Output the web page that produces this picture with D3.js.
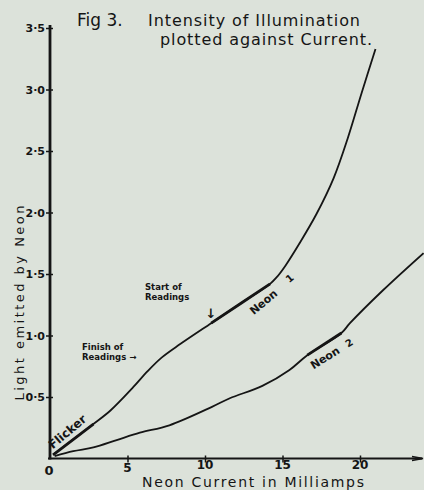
<!DOCTYPE html>
<head>
<meta charset="utf-8">
<title>Fig 3</title>
<script src="https://d3js.org/d3.v7.min.js"></script>
<style>
  body { margin: 0; background: #dce2da; }
  svg { display: block; font-family: "DejaVu Sans", sans-serif; }
</style>
</head>
<body>
<div id="chart"></div>
<script>

// values
var neon1Current = [0.2, 2.8, 3.9, 5.3, 6.3, 7.2, 8.4, 10.4, 12.3, 14.2, 14.6, 15.2, 16.1, 17.2, 18.3, 19.2, 20.1, 21.0];
var neon1Light   = [0.03, 0.28, 0.39, 0.57, 0.71, 0.82, 0.93, 1.10, 1.26, 1.42, 1.47, 1.57, 1.75, 1.99, 2.28, 2.60, 2.97, 3.33];

var neon2Current = [0.3, 1.5, 2.8, 4.3, 5.8, 7.7, 10.45, 11.6, 13.7, 15.45, 16.6, 18.8, 19.35, 21.5, 24.1];
var neon2Light   = [0.02, 0.06, 0.09, 0.15, 0.21, 0.27, 0.42, 0.49, 0.59, 0.72, 0.84, 1.02, 1.10, 1.37, 1.67];

var xTicks = [5, 10, 15, 20];
var yTicks = [0.5, 1.0, 1.5, 2.0, 2.5, 3.0, 3.5];
var yTickLabels = ["0·5", "1·0", "1·5", "2·0", "2·5", "3·0", "3·5"];

// parts of the curves drawn heavier: [from, to] in mA
var flickerRange = [0, 2.8];
var neon1Range = [10.4, 14.2];
var neon2Range = [16.6, 18.8];

var width = 424, height = 490;

var svg = d3.select("#chart")
  .append("svg")
    .attr("width", width)
    .attr("height", height);

var x = d3.scaleLinear().domain([0, 24]).range([50, 422]);
var y = d3.scaleLinear().domain([0, 3.5]).range([458.5, 28]);

var ink = "#151515";

// axes
var xAxis = svg.append("g")
  .attr("transform", "translate(0," + y(0) + ")")
  .call(d3.axisBottom(x).tickValues(xTicks).tickSize(4).tickFormat(""));
xAxis.select(".domain").remove();
xAxis.selectAll("line").attr("y1", -3).attr("stroke", ink).attr("stroke-width", 1.5);
svg.append("line")
  .attr("x1", 48).attr("x2", 422)
  .attr("y1", y(0)).attr("y2", y(0))
  .attr("stroke", ink).attr("stroke-width", 2.2);
svg.append("path")
  .attr("d", "M412," + (y(0) - 2) + "L423," + y(0) + "L412," + (y(0) + 2))
  .attr("fill", "none").attr("stroke", ink).attr("stroke-width", 1.5);

var yAxis = svg.append("g")
  .attr("transform", "translate(" + x(0) + ",0)")
  .call(d3.axisLeft(y).tickValues(yTicks).tickSize(4).tickFormat(""));
yAxis.select(".domain").remove();
yAxis.selectAll("line").attr("x1", 3).attr("stroke", ink).attr("stroke-width", 1.5);
svg.append("line")
  .attr("x1", x(0)).attr("x2", x(0))
  .attr("y1", y(0) + 1).attr("y2", y(3.5) - 3)
  .attr("stroke", ink).attr("stroke-width", 2.8);

svg.selectAll(".ylab")
  .data(yTicks)
  .enter()
  .append("text")
    .attr("x", x(0) - 5)
    .attr("y", function(d) { return y(d) + 4; })
    .attr("text-anchor", "end")
    .style("font-size", "11px")
    .style("font-weight", "bold")
    .attr("fill", ink)
    .text(function(d, i) { return yTickLabels[i]; });

svg.selectAll(".xlab")
  .data(xTicks)
  .enter()
  .append("text")
    .attr("x", function(d) { return x(d); })
    .attr("y", function(d) { return d < 10 ? 472 : 469; })
    .attr("text-anchor", "middle")
    .style("font-size", "12px")
    .style("font-weight", "bold")
    .attr("fill", ink)
    .text(function(d) { return d; });

svg.append("text")
  .attr("x", x(0) - 1).attr("y", 475)
  .attr("text-anchor", "middle")
  .style("font-size", "13px").style("font-weight", "bold")
  .attr("fill", ink)
  .text("0");

// axis titles
svg.append("text")
  .attr("x", 253).attr("y", 487)
  .attr("text-anchor", "middle")
  .attr("textLength", 222)
  .style("font-size", "14px")
  .attr("fill", ink)
  .text("Neon Current in Milliamps");

svg.append("text")
  .attr("transform", "translate(24,303)rotate(-90)")
  .attr("text-anchor", "middle")
  .attr("textLength", 195)
  .style("font-size", "13px")
  .attr("fill", ink)
  .text("Light emitted by Neon");

// title
svg.append("text")
  .attr("x", 77).attr("y", 26)
  .style("font-size", "17px")
  .attr("fill", ink)
  .text("Fig 3.");
svg.append("text")
  .attr("x", 148).attr("y", 26)
  .attr("textLength", 212)
  .style("font-size", "16px")
  .attr("fill", ink)
  .text("Intensity of Illumination");
svg.append("text")
  .attr("x", 160).attr("y", 45)
  .attr("textLength", 212)
  .style("font-size", "16px")
  .attr("fill", ink)
  .text("plotted against Current.");

// curves
function pts(cx, cy) {
  return cx.map(function(d, i) { return [d, cy[i]]; });
}
var neon1 = pts(neon1Current, neon1Light);
var neon2 = pts(neon2Current, neon2Light);

var line = d3.line()
  .x(function(d) { return x(d[0]); })
  .y(function(d) { return y(d[1]); })
  .curve(d3.curveCatmullRom);

function part(data, r) {
  return data.filter(function(d) { return d[0] >= r[0] && d[0] <= r[1]; });
}

[neon1, neon2].forEach(function(data) {
  svg.append("path")
    .datum(data)
    .attr("d", line)
    .attr("fill", "none")
    .attr("stroke", ink)
    .attr("stroke-width", 1.8);
});

[[neon1, flickerRange], [neon1, neon1Range], [neon2, neon2Range]].forEach(function(p) {
  svg.append("path")
    .datum(part(p[0], p[1]))
    .attr("d", d3.line().x(function(d) { return x(d[0]); }).y(function(d) { return y(d[1]); }))
    .attr("fill", "none")
    .attr("stroke", ink)
    .attr("stroke-width", 2.8);
});

// notes on the curves
function note(tx, ty, angle, size, txt) {
  svg.append("text")
    .attr("transform", "translate(" + tx + "," + ty + ")rotate(" + angle + ")")
    .attr("text-anchor", "middle")
    .style("font-size", size + "px")
    .style("font-weight", "bold")
    .attr("fill", ink)
    .text(txt);
}
note(70, 435, -40, 12, "Flicker");
note(266, 305, -40, 11, "Neon");
note(292, 281, -40, 10, "1");
note(327, 361, -32, 11, "Neon");
note(351, 346, -32, 10, "2");

function small(tx, ty, txt) {
  svg.append("text")
    .attr("x", tx).attr("y", ty)
    .style("font-size", "8.5px")
    .style("font-weight", "bold")
    .attr("fill", ink)
    .text(txt);
}
small(82, 350, "Finish of");
small(82, 360, "Readings \u2192");
small(145, 290, "Start of");
small(145, 300, "Readings");
svg.append("text")
  .attr("x", 211).attr("y", 318)
  .attr("text-anchor", "middle")
  .style("font-size", "13px")
  .style("font-weight", "bold")
  .attr("fill", ink)
  .text("\u2193");

</script>
</body>
